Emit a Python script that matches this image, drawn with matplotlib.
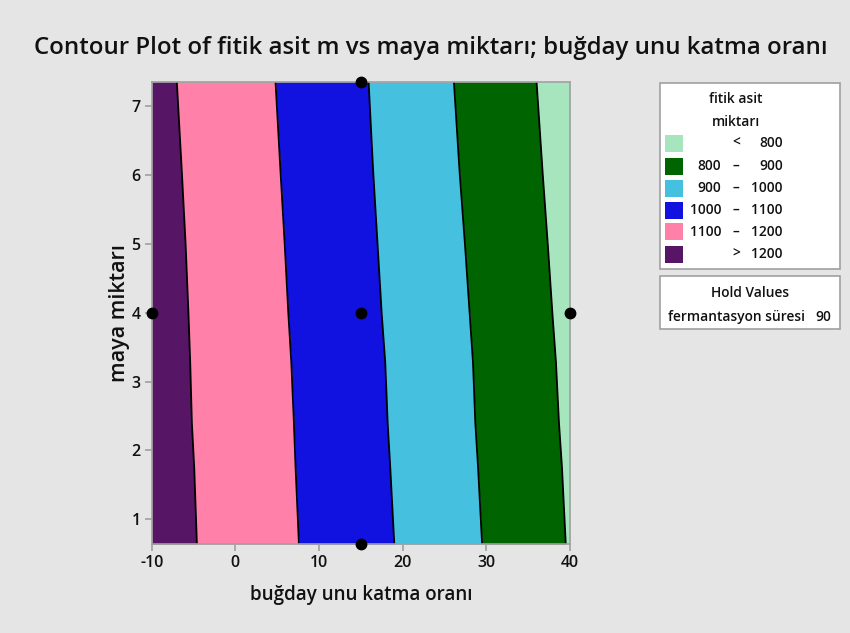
import matplotlib
matplotlib.use("Agg")
import matplotlib.pyplot as plt
from matplotlib.patches import Rectangle

plt.rcParams['font.family'] = ['Open Sans', 'DejaVu Sans']
plt.rcParams['font.weight'] = 600
plt.rcParams['axes.labelweight'] = 600
plt.rcParams['axes.unicode_minus'] = False

# Contour boundary positions (buğday unu katma oranı) along maya miktarı
maya = [0.64, 1.75, 2.40, 3.28, 4.00, 5.00, 6.05, 7.36]
b1200 = [-4.60, -4.92, -5.20, -5.40, -5.61, -5.95, -6.40, -7.00]
b1100 = [7.60, 7.20, 7.00, 6.69, 6.33, 5.90, 5.40, 4.80]
b1000 = [19.00, 18.52, 18.21, 17.92, 17.49, 17.00, 16.48, 15.93]
b900 = [29.50, 29.02, 28.69, 28.41, 28.01, 27.45, 26.81, 26.13]
b800 = [39.50, 39.05, 38.69, 38.33, 37.90, 37.35, 36.73, 36.01]

x_min, x_max = -10, 40
y_min, y_max = 0.64, 7.36

# Design points
pt_x = [15, -10, 15, 40, 15]
pt_y = [7.36, 4.0, 4.0, 4.0, 0.64]

band_colors = ["#a6e5bd", "#006400", "#45c1df", "#1212e0", "#ff80a8", "#571566"]
lo_vals = ["", "800", "900", "1000", "1100", ""]
sep = ["<", "–", "–", "–", "–", ">"]
hi_vals = ["800", "900", "1000", "1100", "1200", "1200"]

bg = "#e5e5e5"
txt = "#111111"
fig = plt.figure(figsize=(8.5, 6.33), dpi=100, facecolor=bg)
ax = fig.add_axes([0.1785, 0.1406, 0.492, 0.7303])
ax.set_facecolor("white")

left = [x_min] * len(maya)
right = [x_max] * len(maya)
bounds = [left, b1200, b1100, b1000, b900, b800, right]
fill_colors = band_colors[::-1]  # left to right: >1200 ... <800
for i in range(6):
    ax.fill_betweenx(maya, bounds[i], bounds[i + 1], color=fill_colors[i],
                     linewidth=0, zorder=1)
for b in [b1200, b1100, b1000, b900, b800]:
    ax.plot(b, maya, color="black", linewidth=1.3, zorder=2)

ax.plot(pt_x, pt_y, "o", color="black", markersize=7.5, clip_on=False, zorder=5)

ax.set_xlim(x_min, x_max)
ax.set_ylim(y_min, y_max)
ax.set_xticks([-10, 0, 10, 20, 30, 40])
ax.set_yticks([1, 2, 3, 4, 5, 6, 7])
for s in ax.spines.values():
    s.set_color("#a0a0a0")
    s.set_linewidth(1.2)
ax.tick_params(direction="out", length=5, width=1.2, color="#a0a0a0",
               labelsize=11.5, labelcolor=txt, pad=3)

ax.set_xlabel("buğday unu katma oranı", fontsize=13.5, color=txt, labelpad=10)
ax.set_ylabel("maya miktarı", fontsize=15.5, color=txt, labelpad=1)

fig.text(0.507, 0.924, "Contour Plot of fitik asit m vs maya miktarı; buğday unu katma oranı",
         ha="center", va="center", fontsize=17.3, color=txt)

# Legend boxes placed in figure pixel coordinates
W, H = 850, 633


def fx(px):
    return px / W


def fy(py):
    return 1 - py / H


fig.patches.append(Rectangle((fx(659.5), fy(269.3)), fx(840) - fx(659.5),
                             fy(82.7) - fy(269.3), transform=fig.transFigure,
                             facecolor="white", edgecolor="#a0a0a0", linewidth=1.2))
fig.patches.append(Rectangle((fx(659.5), fy(329.3)), fx(840) - fx(659.5),
                             fy(276) - fy(329.3), transform=fig.transFigure,
                             facecolor="white", edgecolor="#a0a0a0", linewidth=1.2))

lfs = 9.9
fig.text(fx(736), fy(97.5), "fitik asit", ha="center", va="center_baseline",
         fontsize=lfs, color=txt)
fig.text(fx(736), fy(120.5), "miktarı", ha="center", va="center_baseline",
         fontsize=lfs, color=txt)

row_y = [143, 166, 188, 210, 232, 254]
for i, py in enumerate(row_y):
    fig.patches.append(Rectangle((fx(665), fy(py + 8.5)), fx(683) - fx(665),
                                 fy(py - 8.5) - fy(py + 8.5), transform=fig.transFigure,
                                 facecolor=band_colors[i], edgecolor="none"))
    ty = fy(py - 1.5)
    if lo_vals[i]:
        fig.text(fx(721.5), ty, lo_vals[i], ha="right", va="center_baseline",
                 fontsize=lfs, color=txt)
    fig.text(fx(736), ty, sep[i], ha="center", va="center_baseline",
             fontsize=lfs, color=txt)
    fig.text(fx(783), ty, hi_vals[i], ha="right", va="center_baseline",
             fontsize=lfs, color=txt)

fig.text(fx(750), fy(291.5), "Hold Values", ha="center", va="center_baseline",
         fontsize=lfs, color=txt)
fig.text(fx(805), fy(315.5), "fermantasyon süresi", ha="right", va="center_baseline",
         fontsize=lfs, color=txt)
fig.text(fx(831), fy(315.5), "90", ha="right", va="center_baseline", fontsize=lfs,
         color=txt)

fig.savefig("out.png", dpi=100, facecolor=bg)
